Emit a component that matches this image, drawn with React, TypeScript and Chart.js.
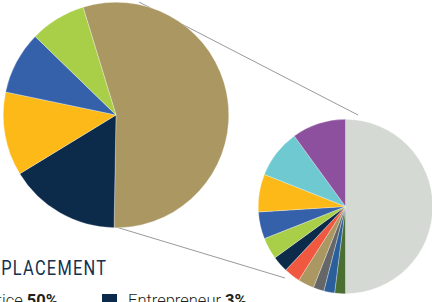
import React, { useEffect, useRef } from "react";
import { Chart, registerables } from "chart.js";

Chart.register(...registerables);

const mainLabels = ["Other placement", "Entrepreneur", "Category C", "Category D", "Category E"];
const mainValues = [55, 16, 12, 9, 8];
const mainColors = ["#aa9761", "#0c2b4b", "#fcb917", "#3561ab", "#a9ce47"];

const detailLabels = [
  "Private Practice",
  "Detail 1",
  "Detail 2",
  "Detail 3",
  "Detail 4",
  "Detail 5",
  "Entrepreneur",
  "Detail 7",
  "Detail 8",
  "Detail 9",
  "Detail 10",
  "Detail 11",
];
const detailValues = [50, 2, 2, 2, 3, 3, 3, 4, 5, 7, 9, 10];
const detailColors = [
  "#d5d9d3",
  "#4b6e32",
  "#2a5f9b",
  "#656668",
  "#aa9761",
  "#f0583f",
  "#0c2b4b",
  "#a9ce47",
  "#3561ab",
  "#fcb917",
  "#6fc9d1",
  "#8c509e",
];

function PieCanvas(props: {
  labels: string[];
  values: number[];
  colors: string[];
  rotation: number;
  size: number;
  left: number;
  top: number;
}) {
  const ref = useRef<HTMLCanvasElement | null>(null);
  useEffect(() => {
    if (!ref.current) return;
    const chart = new Chart(ref.current, {
      type: "pie",
      data: {
        labels: props.labels,
        datasets: [
          {
            data: props.values,
            backgroundColor: props.colors,
            borderColor: "rgba(255,255,255,0.6)",
            borderWidth: 0.5,
          },
        ],
      },
      options: {
        animation: false,
        responsive: false,
        rotation: props.rotation,
        layout: { padding: 0 },
        plugins: { legend: { display: false }, tooltip: { enabled: false } },
      },
    });
    return () => chart.destroy();
  }, []);
  return (
    <canvas
      ref={ref}
      width={props.size}
      height={props.size}
      style={{
        position: "absolute",
        left: props.left,
        top: props.top,
        width: props.size,
        height: props.size,
      }}
    />
  );
}

export default function App() {
  return (
    <div
      style={{
        position: "fixed",
        left: 0,
        top: 0,
        width: 432,
        height: 302,
        overflow: "hidden",
        background: "#ffffff",
      }}
    >
      <svg
        width={432}
        height={302}
        style={{ position: "absolute", left: 0, top: 0 }}
      >
        <line x1={139} y1={2} x2={358} y2={115} stroke="#9a9a9a" strokeWidth={1} />
        <line x1={116} y1={227} x2={285} y2={278} stroke="#9a9a9a" strokeWidth={1} />
      </svg>
      <PieCanvas
        labels={mainLabels}
        values={mainValues}
        colors={mainColors}
        rotation={-17}
        size={226}
        left={3}
        top={2}
      />
      <PieCanvas
        labels={detailLabels}
        values={detailValues}
        colors={detailColors}
        rotation={0}
        size={175}
        left={258}
        top={119}
      />
      <div
        style={{
          position: "absolute",
          right: 432 - 107.5,
          top: 258.5,
          fontFamily: "Roboto, sans-serif",
          fontSize: 19.5,
          lineHeight: 1,
          letterSpacing: 1.5,
          color: "#12304f",
          whiteSpace: "nowrap",
          transform: "scaleX(0.84)",
          transformOrigin: "right top",
        }}
      >
        PLACEMENT
      </div>
      <div
        style={{
          position: "absolute",
          right: 432 - 58,
          top: 293,
          fontFamily: "Roboto, sans-serif",
          fontSize: 16.5,
          lineHeight: 1,
          fontWeight: 300,
          color: "#231f20",
          whiteSpace: "nowrap",
        }}
      >
        Private Practice <b style={{ fontWeight: 700 }}>50%</b>
      </div>
      <div
        style={{
          position: "absolute",
          left: 102,
          top: 294,
          width: 15,
          height: 15,
          background: "#0c2b4b",
        }}
      />
      <div
        style={{
          position: "absolute",
          left: 128,
          top: 293,
          fontFamily: "Roboto, sans-serif",
          fontSize: 16.5,
          lineHeight: 1,
          fontWeight: 300,
          color: "#231f20",
          whiteSpace: "nowrap",
        }}
      >
        Entrepreneur <b style={{ fontWeight: 700 }}>3%</b>
      </div>
    </div>
  );
}
